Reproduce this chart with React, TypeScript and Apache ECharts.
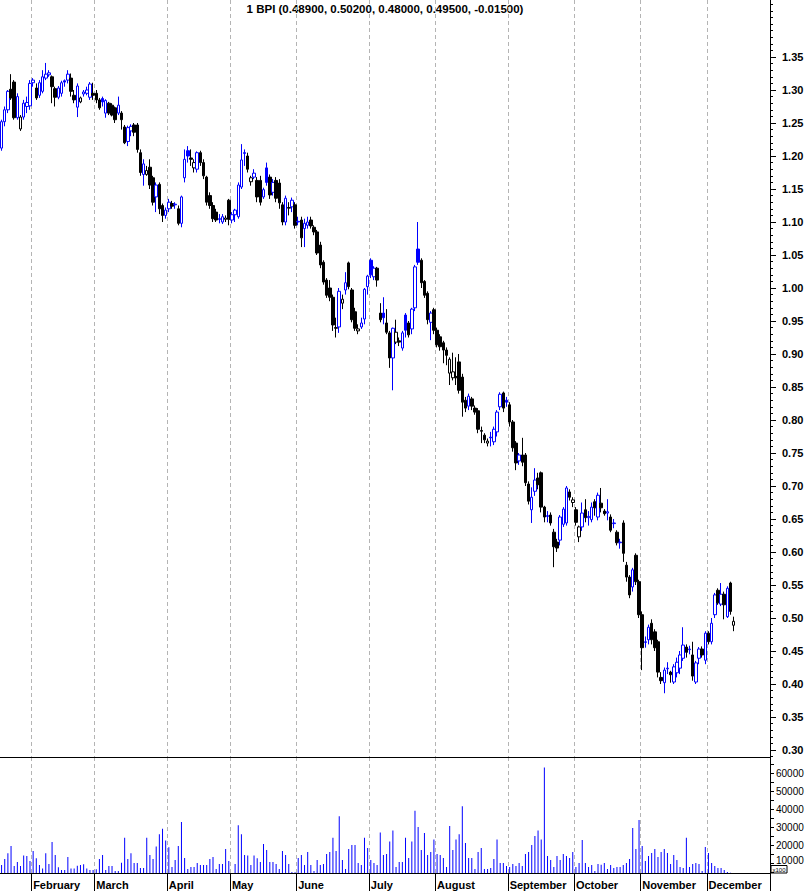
import React, { useEffect, useRef } from "react";
import * as echarts from "echarts";

// ---- Data: daily bars per month, each [open, close, low, high] ----
const monthNames = [
  "January", "February", "March", "April", "May", "June",
  "July", "August", "September", "October", "November", "December",
];

const jan = [
  [1.212, 1.252, 1.208, 1.255], [1.252, 1.27, 1.245, 1.275], [1.27, 1.298, 1.265, 1.3],
  [1.301, 1.288, 1.285, 1.324], [1.312, 1.258, 1.255, 1.315], [1.258, 1.29, 1.255, 1.295],
  [1.241, 1.259, 1.238, 1.262], [1.259, 1.28, 1.255, 1.285], [1.275, 1.281, 1.265, 1.29],
  [1.276, 1.31, 1.27, 1.315],
];
const feb = [
  [1.311, 1.315, 1.305, 1.318], [1.303, 1.288, 1.285, 1.31], [1.292, 1.311, 1.288, 1.315],
  [1.298, 1.32, 1.295, 1.33], [1.318, 1.324, 1.315, 1.341], [1.323, 1.326, 1.32, 1.33],
  [1.32, 1.305, 1.28, 1.322], [1.302, 1.289, 1.275, 1.305], [1.289, 1.303, 1.286, 1.306],
  [1.295, 1.311, 1.29, 1.314], [1.314, 1.312, 1.305, 1.316], [1.315, 1.324, 1.31, 1.33],
  [1.318, 1.298, 1.29, 1.325], [1.292, 1.285, 1.28, 1.3], [1.274, 1.306, 1.259, 1.31],
  [1.282, 1.288, 1.28, 1.29], [1.294, 1.297, 1.29, 1.3], [1.295, 1.3, 1.292, 1.305],
  [1.289, 1.309, 1.285, 1.312], [1.295, 1.292, 1.285, 1.311],
];
const mar = [
  [1.295, 1.285, 1.28, 1.3], [1.285, 1.273, 1.27, 1.288], [1.287, 1.282, 1.275, 1.29],
  [1.265, 1.284, 1.258, 1.286], [1.28, 1.265, 1.262, 1.282], [1.277, 1.262, 1.26, 1.28],
  [1.273, 1.255, 1.25, 1.275], [1.265, 1.277, 1.262, 1.29], [1.265, 1.255, 1.24, 1.268],
  [1.244, 1.22, 1.218, 1.247], [1.222, 1.243, 1.215, 1.246], [1.238, 1.245, 1.23, 1.248],
  [1.247, 1.236, 1.23, 1.25], [1.247, 1.21, 1.205, 1.25], [1.205, 1.175, 1.17, 1.21],
  [1.172, 1.188, 1.155, 1.195], [1.172, 1.178, 1.17, 1.185], [1.183, 1.156, 1.15, 1.195],
  [1.167, 1.13, 1.125, 1.17], [1.138, 1.156, 1.115, 1.16], [1.157, 1.12, 1.112, 1.16],
  [1.125, 1.11, 1.1, 1.128], [1.11, 1.118, 1.105, 1.122],
];
const apr = [
  [1.12, 1.13, 1.115, 1.135], [1.128, 1.124, 1.12, 1.132], [1.126, 1.127, 1.12, 1.13],
  [1.12, 1.098, 1.095, 1.125], [1.098, 1.138, 1.092, 1.14], [1.167, 1.195, 1.16, 1.21],
  [1.208, 1.2, 1.19, 1.215], [1.197, 1.195, 1.185, 1.21], [1.182, 1.19, 1.175, 1.195],
  [1.18, 1.205, 1.175, 1.207], [1.205, 1.19, 1.185, 1.208], [1.19, 1.17, 1.165, 1.195],
  [1.168, 1.13, 1.125, 1.17], [1.14, 1.125, 1.12, 1.145], [1.125, 1.105, 1.1, 1.13],
  [1.115, 1.103, 1.1, 1.12], [1.105, 1.104, 1.098, 1.112], [1.1, 1.108, 1.097, 1.112],
  [1.104, 1.106, 1.1, 1.11], [1.133, 1.104, 1.095, 1.135],
];
const may = [
  [1.103, 1.111, 1.098, 1.115], [1.111, 1.118, 1.1, 1.12], [1.108, 1.156, 1.105, 1.16],
  [1.153, 1.194, 1.15, 1.218], [1.205, 1.204, 1.185, 1.21], [1.2, 1.18, 1.175, 1.205],
  [1.161, 1.167, 1.155, 1.17], [1.168, 1.174, 1.165, 1.18], [1.163, 1.138, 1.13, 1.168],
  [1.163, 1.13, 1.125, 1.17], [1.138, 1.149, 1.135, 1.152], [1.182, 1.16, 1.155, 1.19],
  [1.168, 1.141, 1.135, 1.172], [1.145, 1.16, 1.14, 1.165], [1.163, 1.136, 1.13, 1.168],
  [1.159, 1.129, 1.12, 1.165], [1.126, 1.1, 1.095, 1.13], [1.1, 1.136, 1.095, 1.14],
  [1.122, 1.121, 1.11, 1.13], [1.123, 1.133, 1.115, 1.137], [1.126, 1.095, 1.09, 1.13],
];
const jun = [
  [1.1, 1.101, 1.095, 1.108], [1.103, 1.076, 1.062, 1.108], [1.09, 1.098, 1.062, 1.105],
  [1.095, 1.1, 1.09, 1.108], [1.103, 1.094, 1.09, 1.108], [1.092, 1.085, 1.08, 1.095],
  [1.085, 1.053, 1.05, 1.088], [1.065, 1.035, 1.03, 1.07], [1.039, 1.009, 1.005, 1.042],
  [1.012, 0.989, 0.985, 1.015], [1.0, 0.986, 0.98, 1.012], [0.986, 0.944, 0.935, 0.99],
  [0.94, 0.939, 0.925, 0.955], [0.941, 0.995, 0.932, 1.0], [0.977, 0.983, 0.968, 0.99],
  [0.997, 1.008, 0.99, 1.024], [1.038, 1.002, 0.998, 1.04], [0.997, 0.952, 0.948, 1.0],
  [0.964, 0.939, 0.935, 0.97], [0.935, 0.938, 0.93, 0.945], [0.941, 0.947, 0.938, 0.955],
  [0.953, 0.998, 0.945, 1.0], [1.002, 1.018, 0.99, 1.02],
];
const jul = [
  [1.042, 1.02, 1.015, 1.045], [1.017, 1.03, 1.012, 1.033], [1.03, 1.012, 1.002, 1.032],
  [0.962, 0.952, 0.948, 0.977], [0.962, 0.955, 0.945, 0.986], [0.947, 0.933, 0.93, 0.968],
  [0.932, 0.894, 0.879, 0.935], [0.894, 0.939, 0.845, 0.94], [0.918, 0.933, 0.915, 0.952],
  [0.92, 0.918, 0.912, 0.925], [0.909, 0.932, 0.905, 0.935], [0.959, 0.936, 0.925, 0.962],
  [0.947, 0.929, 0.925, 0.95], [0.938, 0.968, 0.93, 0.97], [0.97, 1.032, 0.965, 1.035],
  [1.059, 1.039, 1.035, 1.1], [1.042, 1.008, 1.0, 1.045], [1.01, 0.989, 0.985, 1.012],
  [0.992, 0.952, 0.945, 0.995], [0.948, 0.962, 0.921, 0.965], [0.967, 0.936, 0.93, 0.97],
];
const aug = [
  [0.936, 0.914, 0.91, 0.94], [0.926, 0.911, 0.905, 0.93], [0.917, 0.906, 0.886, 0.92],
  [0.906, 0.898, 0.883, 0.91], [0.871, 0.892, 0.853, 0.895], [0.864, 0.873, 0.86, 0.902],
  [0.866, 0.864, 0.853, 0.895], [0.888, 0.845, 0.84, 0.9], [0.865, 0.827, 0.805, 0.87],
  [0.83, 0.818, 0.812, 0.835], [0.821, 0.836, 0.815, 0.84], [0.832, 0.821, 0.815, 0.835],
  [0.818, 0.812, 0.808, 0.822], [0.814, 0.786, 0.78, 0.818], [0.784, 0.783, 0.765, 0.79],
  [0.777, 0.77, 0.765, 0.78], [0.765, 0.768, 0.76, 0.772], [0.774, 0.773, 0.76, 0.782],
  [0.767, 0.786, 0.762, 0.79], [0.782, 0.812, 0.775, 0.815], [0.82, 0.839, 0.815, 0.842],
  [0.841, 0.818, 0.812, 0.843], [0.83, 0.827, 0.82, 0.835],
];
const sep = [
  [0.823, 0.797, 0.79, 0.827], [0.797, 0.758, 0.752, 0.8], [0.765, 0.735, 0.724, 0.768],
  [0.738, 0.747, 0.732, 0.75], [0.747, 0.736, 0.73, 0.773], [0.747, 0.705, 0.7, 0.75],
  [0.703, 0.677, 0.672, 0.707], [0.664, 0.683, 0.644, 0.698], [0.692, 0.709, 0.685, 0.727],
  [0.712, 0.702, 0.695, 0.72], [0.72, 0.668, 0.66, 0.722], [0.668, 0.653, 0.645, 0.67],
  [0.655, 0.654, 0.645, 0.662], [0.656, 0.644, 0.64, 0.66], [0.63, 0.608, 0.577, 0.635],
  [0.615, 0.606, 0.6, 0.62], [0.618, 0.653, 0.61, 0.656], [0.642, 0.665, 0.638, 0.668],
  [0.644, 0.697, 0.64, 0.7], [0.691, 0.683, 0.678, 0.695], [0.675, 0.679, 0.668, 0.683],
];
const oct = [
  [0.664, 0.645, 0.64, 0.668], [0.623, 0.638, 0.615, 0.64], [0.638, 0.659, 0.632, 0.675],
  [0.664, 0.652, 0.645, 0.68], [0.652, 0.654, 0.64, 0.662], [0.649, 0.668, 0.645, 0.675],
  [0.676, 0.667, 0.655, 0.68], [0.653, 0.686, 0.648, 0.69], [0.674, 0.667, 0.66, 0.697],
  [0.662, 0.658, 0.655, 0.665], [0.659, 0.661, 0.648, 0.68], [0.653, 0.633, 0.63, 0.657],
  [0.643, 0.644, 0.636, 0.65], [0.63, 0.614, 0.61, 0.633], [0.614, 0.615, 0.605, 0.62],
  [0.644, 0.598, 0.585, 0.648], [0.58, 0.562, 0.555, 0.585], [0.562, 0.535, 0.53, 0.565],
  [0.547, 0.573, 0.54, 0.576], [0.595, 0.555, 0.55, 0.598], [0.555, 0.505, 0.5, 0.558],
];
const nov = [
  [0.505, 0.455, 0.421, 0.51], [0.463, 0.464, 0.455, 0.472], [0.467, 0.486, 0.46, 0.49],
  [0.492, 0.467, 0.46, 0.498], [0.479, 0.455, 0.45, 0.483], [0.464, 0.418, 0.41, 0.467],
  [0.41, 0.405, 0.4, 0.418], [0.402, 0.421, 0.386, 0.425], [0.423, 0.424, 0.415, 0.433],
  [0.418, 0.414, 0.402, 0.42], [0.403, 0.426, 0.4, 0.43], [0.417, 0.433, 0.41, 0.44],
  [0.424, 0.444, 0.415, 0.45], [0.439, 0.459, 0.435, 0.486], [0.456, 0.448, 0.44, 0.46],
  [0.452, 0.453, 0.445, 0.458], [0.444, 0.412, 0.405, 0.464], [0.403, 0.432, 0.4, 0.435],
  [0.439, 0.453, 0.43, 0.456], [0.453, 0.444, 0.44, 0.457], [0.436, 0.477, 0.43, 0.48],
];
const dec = [
  [0.477, 0.464, 0.46, 0.48], [0.464, 0.492, 0.46, 0.5], [0.505, 0.535, 0.5, 0.538],
  [0.542, 0.523, 0.52, 0.545], [0.521, 0.536, 0.518, 0.553], [0.536, 0.52, 0.498, 0.54],
  [0.502, 0.545, 0.5, 0.548], [0.553, 0.51, 0.505, 0.555], [0.489, 0.495, 0.48, 0.502],
];

// ---- Volume (in hundreds of shares, as the axis shows "x100") ----
const janVol = [8900, 12200, 15400, 19400, 8300, 10600, 8300, 14200, 13900, 11100];
const febVol = [16700, 12600, 8900, 6900, 15400, 9400, 21700, 14400, 7600, 6100, 6100, 13300, 7000, 7000, 8500, 8900, 9300, 6900, 6100, 6100];
const marVol = [6500, 12200, 14400, 6100, 8300, 8300, 5600, 5600, 10200, 24000, 12200, 15400, 10000, 10000, 7200, 7200, 24000, 14400, 12200, 19100, 26000, 29000, 22500];
const aprVol = [18700, 7800, 11700, 19400, 32800, 12800, 6700, 7800, 7800, 10000, 8900, 8900, 8900, 12200, 13300, 6700, 9400, 9400, 17800, 11100];
const mayVol = [4300, 9400, 31000, 26000, 14400, 14100, 8900, 14100, 12600, 10600, 20600, 17200, 10600, 10600, 9400, 6700, 16700, 14400, 9400, 5000, 4800];
const junVol = [12800, 14400, 8900, 16100, 8900, 5600, 11700, 8900, 9400, 15000, 16100, 24000, 16700, 36000, 11700, 6700, 17800, 20000, 20000, 10000, 8900, 24000, 18300];
const julVol = [11700, 10000, 8900, 27000, 14400, 15000, 22000, 28000, 7800, 10600, 10600, 24000, 12800, 22000, 39000, 30000, 17200, 26700, 14400, 16100, 23000];
const augVol = [15000, 14400, 12800, 7800, 30500, 17200, 23000, 26000, 41500, 21100, 12800, 12800, 6700, 16100, 18300, 6700, 6700, 7200, 12200, 23000, 10000, 10000, 8300];
const sepVol = [7800, 9400, 8300, 10000, 8300, 15000, 16100, 20000, 25000, 28000, 23000, 63000, 13900, 11700, 7800, 13900, 11700, 15000, 13900, 12800, 16100];
const octVol = [7800, 10000, 22800, 10000, 7800, 8900, 5600, 9400, 9000, 10000, 6700, 8900, 7200, 7800, 7800, 8900, 10000, 12200, 29400, 17800, 33900];
const novVol = [19400, 11100, 13900, 15600, 17800, 13300, 16100, 17800, 15600, 9400, 14400, 11700, 7800, 7200, 24000, 7800, 9400, 10000, 9400, 5600, 18900];
const decVol = [15600, 10000, 8300, 7200, 7200, 6100, 5000, 4600, 4300];

const EMPTY_SLOTS = 11; // blank space to the right of the last bar

// ---- Axis tick labels ----
const priceTickLabels = [0.3, 0.35, 0.4, 0.45, 0.5, 0.55, 0.6, 0.65, 0.7, 0.75, 0.8, 0.85, 0.9, 0.95, 1.0, 1.05, 1.1, 1.15, 1.2, 1.25, 1.3, 1.35];
const volumeTickLabels = [10000, 20000, 30000, 40000, 50000, 60000];

const monthBars = [jan, feb, mar, apr, may, jun, jul, aug, sep, oct, nov, dec];
const monthVols = [janVol, febVol, marVol, aprVol, mayVol, junVol, julVol, augVol, sepVol, octVol, novVol, decVol];

const BLUE = "#0000ff";
const BLACK = "#000000";
const FONT = "'Liberation Sans', Arial, sans-serif";

function buildOption() {
  const categories: string[] = [];
  const monthStart = new Set<number>();
  const candles: any[] = [];
  const vols: any[] = [];
  let prevClose: number | null = null;
  let lastPrev = 0;
  monthBars.forEach((bars, m) => {
    monthStart.add(categories.length);
    bars.forEach((b, i) => {
      categories.push(`${monthNames[m]} ${i + 1}`);
      const [o, c, l, h] = b;
      const up = prevClose === null || c >= prevClose;
      const col = up ? BLUE : BLACK;
      const fill = c >= o ? "#ffffff" : col;
      candles.push({
        value: [o, c, l, h],
        itemStyle: { color: fill, color0: fill, borderColor: col, borderColor0: col },
      });
      vols.push(monthVols[m][i]);
      if (prevClose !== null) lastPrev = prevClose;
      prevClose = c;
    });
  });
  for (let k = 0; k < EMPTY_SLOTS; k++) {
    categories.push(`pad ${k}`);
    candles.push("-");
    vols.push("-");
  }
  const last = dec[dec.length - 1];
  const change = last[1] - lastPrev;
  const title = `1 BPI (${last[0].toFixed(5)}, ${last[3].toFixed(5)}, ${last[2].toFixed(5)}, ${last[1].toFixed(5)}, ${change.toFixed(5)})`;

  const isMonth = (idx: number) => idx > 0 && monthStart.has(idx);

  // price axis geometry: 1.35 at y=57, 0.05 per 33px
  const pxPerUnit = 660;
  const priceMax = 1.35 + 57 / pxPerUnit;
  const priceMin = 1.35 - (757 - 57) / pxPerUnit;
  const minorTicks: number[] = [];
  for (let k = 29; k <= 143; k++) minorTicks.push(k / 100);

  // volume axis geometry: 10000 per 18px, zero 8px below baseline
  const volMin = (8 / 18) * 10000;
  const volMax = ((881 - 757) / 18) * 10000;
  const volTicks: number[] = [];
  for (let v = 5000; v <= 65000; v += 5000) volTicks.push(v);

  const splitLine = {
    show: true,
    interval: (idx: number) => isMonth(idx),
    lineStyle: { color: "#b4b4b4", type: [4, 3], width: 1 },
  };

  return {
    animation: false,
    backgroundColor: "#ffffff",
    textStyle: { fontFamily: FONT },
    graphic: [
      {
        type: "text",
        x: 385,
        y: 9,
        style: {
          text: title,
          fill: BLACK,
          font: `bold 11.5px ${FONT}`,
          textAlign: "center",
          textVerticalAlign: "middle",
        },
      },
      {
        type: "rect",
        shape: { x: 771, y: 865.5, width: 16, height: 7.5 },
        style: { fill: "#ffffff", stroke: BLACK, lineWidth: 1 },
      },
      {
        type: "text",
        x: 779,
        y: 869.5,
        style: {
          text: "x100",
          fill: BLACK,
          font: `6px ${FONT}`,
          textAlign: "center",
          textVerticalAlign: "middle",
        },
      },
    ],
    grid: [
      { left: 0, top: 0, width: 770, height: 757, containLabel: false, outerBoundsMode: "none" },
      { left: 0, top: 757, width: 770, height: 116, containLabel: false, outerBoundsMode: "none" },
    ],
    xAxis: [
      {
        type: "category",
        gridIndex: 0,
        data: categories,
        boundaryGap: true,
        axisLine: { show: true, lineStyle: { color: BLACK, width: 1 } },
        axisTick: { show: false },
        axisLabel: { show: false },
        splitLine,
      },
      {
        type: "category",
        gridIndex: 1,
        data: categories,
        boundaryGap: true,
        axisLine: { show: true, lineStyle: { color: BLACK, width: 1 } },
        axisTick: {
          show: true,
          length: 18,
          interval: (idx: number) => isMonth(idx),
          lineStyle: { color: BLACK, width: 1 },
        },
        axisLabel: {
          show: true,
          interval: (idx: number) => isMonth(idx),
          formatter: (v: string) => v.split(" ")[0],
          align: "left",
          margin: 6,
          color: BLACK,
          fontFamily: FONT,
          fontSize: 11,
          fontWeight: "bold",
        },
        splitLine,
      },
    ],
    yAxis: [
      {
        type: "value",
        gridIndex: 0,
        position: "right",
        min: priceMin,
        max: priceMax,
        axisLine: { show: true, lineStyle: { color: BLACK, width: 1 } },
        axisTick: { show: true, length: 6, customValues: priceTickLabels, lineStyle: { color: BLACK } },
        axisLabel: {
          show: true,
          customValues: priceTickLabels,
          formatter: (v: number) => v.toFixed(2),
          margin: 12,
          color: BLACK,
          fontFamily: FONT,
          fontSize: 11,
          fontWeight: "bold",
        },
        splitLine: { show: false },
      },
      {
        type: "value",
        gridIndex: 0,
        position: "right",
        min: priceMin,
        max: priceMax,
        axisLine: { show: false },
        axisTick: { show: true, length: 3, customValues: minorTicks, lineStyle: { color: BLACK } },
        axisLabel: { show: false },
        splitLine: { show: false },
      },
      {
        type: "value",
        gridIndex: 1,
        position: "right",
        min: volMin,
        max: volMax,
        axisLine: { show: true, lineStyle: { color: BLACK, width: 1 } },
        axisTick: { show: true, length: 4, customValues: volTicks, lineStyle: { color: BLACK } },
        axisLabel: {
          show: true,
          customValues: volumeTickLabels,
          formatter: (v: number) => (Math.round(v) === 10000 ? "{low|10000}" : String(Math.round(v))),
          rich: { low: { padding: [0, 0, 5, 0], fontSize: 10, fontFamily: FONT, color: BLACK } },
          margin: 6,
          color: BLACK,
          fontFamily: FONT,
          fontSize: 10,
        },
        splitLine: { show: false },
      },
    ],
    series: [
      {
        type: "candlestick",
        xAxisIndex: 0,
        yAxisIndex: 0,
        data: candles,
        barWidth: 3,
        itemStyle: { borderWidth: 1 },
      },
      {
        type: "bar",
        xAxisIndex: 1,
        yAxisIndex: 2,
        data: vols,
        barWidth: 1,
        itemStyle: { color: BLUE },
        clip: true,
      },
    ],
  };
}

export default function App() {
  const ref = useRef<HTMLDivElement>(null);
  useEffect(() => {
    document.body.style.margin = "0";
    const chart = echarts.init(ref.current as HTMLDivElement, null, { renderer: "svg" });
    chart.setOption(buildOption() as any);
    return () => chart.dispose();
  }, []);
  return <div ref={ref} style={{ width: 805, height: 891, position: "absolute", left: 0, top: 0 }} />;
}
